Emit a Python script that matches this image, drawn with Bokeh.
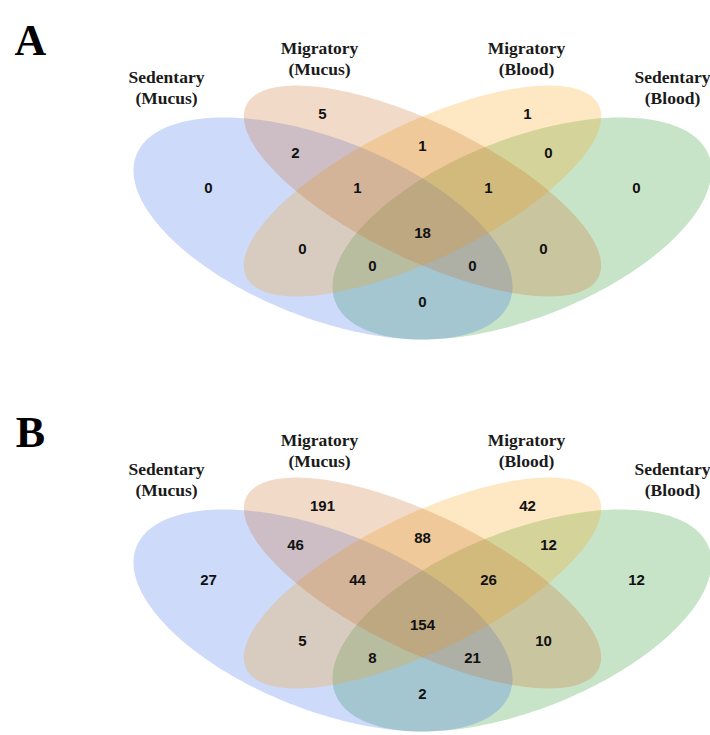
import numpy as np
from bokeh.plotting import figure
from bokeh.models import Range1d, ColumnDataSource
from bokeh.embed import file_html
from bokeh.resources import INLINE
from bokeh.core.properties import value

# ---------------- data ----------------
panel_letters = ["A", "B"]
set_group = ["Sedentary", "Migratory", "Migratory", "Sedentary"]
set_tissue = ["(Mucus)", "(Mucus)", "(Blood)", "(Blood)"]
# regions: A=Sedentary(Mucus), B=Migratory(Mucus), C=Migratory(Blood), D=Sedentary(Blood)
region_keys = ["A", "B", "C", "D", "AB", "BC", "CD", "ABC", "BCD", "ABCD",
               "AC", "BD", "ACD", "ABD", "AD"]
counts_A = [0, 5, 1, 0, 2, 1, 0, 1, 1, 18, 0, 0, 0, 0, 0]
counts_B = [27, 191, 42, 12, 46, 88, 12, 44, 26, 154, 5, 10, 8, 21, 2]
panel_counts = [counts_A, counts_B]

# ---------------- layout (screen pixels, y down) ----------------
W, H = 710, 735
panel_dy = [0, 392]
# ellipse: cx, cy, semi-major, semi-minor, angle (deg, + = descending to the right)
ellipses = [
    (322.5, 228.0, 200.6, 89.4, 21.5),   # Sedentary (Mucus)
    (422.0, 190.5, 196.0, 68.0, 26.0),   # Migratory (Mucus)
    (422.0, 190.5, 196.0, 68.0, -26.0),  # Migratory (Blood)
    (521.5, 228.0, 200.6, 89.4, -21.5),  # Sedentary (Blood)
]
fill_colors = ["#376beb", "#cb6b23", "#f7a30f", "#239323"]
fill_alpha = 0.25
draw_order = [3, 0, 2, 1]
region_pos = {
    "A": (208, 187), "B": (322, 113), "C": (527, 113), "D": (636, 187),
    "AB": (295, 152), "BC": (422, 145), "CD": (548, 152),
    "ABC": (357, 187), "BCD": (488, 187), "ABCD": (422, 232),
    "AC": (302, 248), "BD": (543, 248), "ACD": (372, 265), "ABD": (472, 265),
    "AD": (422, 301),
}
label_x = [166, 319, 526, 672]
label_y1 = [76, 47, 47, 76]
label_y2 = [97, 68, 68, 97]
letter_pos = (30, 40)

p = figure(width=W, height=H, output_backend="svg", toolbar_location=None,
           x_range=Range1d(0, W), y_range=Range1d(H, 0),
           x_axis_location=None, y_axis_location=None, min_border=0,
           outline_line_color=None, background_fill_color="white")
p.grid.visible = False

t = np.linspace(0, 2 * np.pi, 240)
for pi, dy in enumerate(panel_dy):
    xs, ys = [], []
    for (cx, cy, a, b, ang) in ellipses:
        th = np.deg2rad(ang)
        xs.append(list(cx + a * np.cos(t) * np.cos(th) - b * np.sin(t) * np.sin(th)))
        ys.append(list(cy + dy + a * np.cos(t) * np.sin(th) + b * np.sin(t) * np.cos(th)))
    for i in draw_order:
        p.patch(xs[i], ys[i], fill_color=fill_colors[i], fill_alpha=fill_alpha,
                line_color=None)

    src = ColumnDataSource(dict(
        x=[region_pos[k][0] for k in region_keys],
        y=[region_pos[k][1] + dy for k in region_keys],
        txt=[str(v) for v in panel_counts[pi]]))
    p.text("x", "y", text="txt", source=src, text_font=value("Liberation Sans"),
           text_font_style="bold", text_font_size="15px", text_color="#111111",
           text_align="center", text_baseline="middle")

    lsrc = ColumnDataSource(dict(
        x=label_x + label_x,
        y=[v + dy for v in label_y1] + [v + dy for v in label_y2],
        txt=set_group + set_tissue))
    p.text("x", "y", text="txt", source=lsrc, text_font=value("Liberation Serif"),
           text_font_style="bold", text_font_size="17.5px", text_color="#1a1a1a",
           text_align="center", text_baseline="middle")

    p.text(x=[letter_pos[0]], y=[letter_pos[1] + dy], text=[panel_letters[pi]],
           text_font=value("Liberation Serif"), text_font_style="bold",
           text_font_size="44px", text_color="#000000",
           text_align="center", text_baseline="middle")

open("out.html", "w").write(file_html(p, INLINE))
